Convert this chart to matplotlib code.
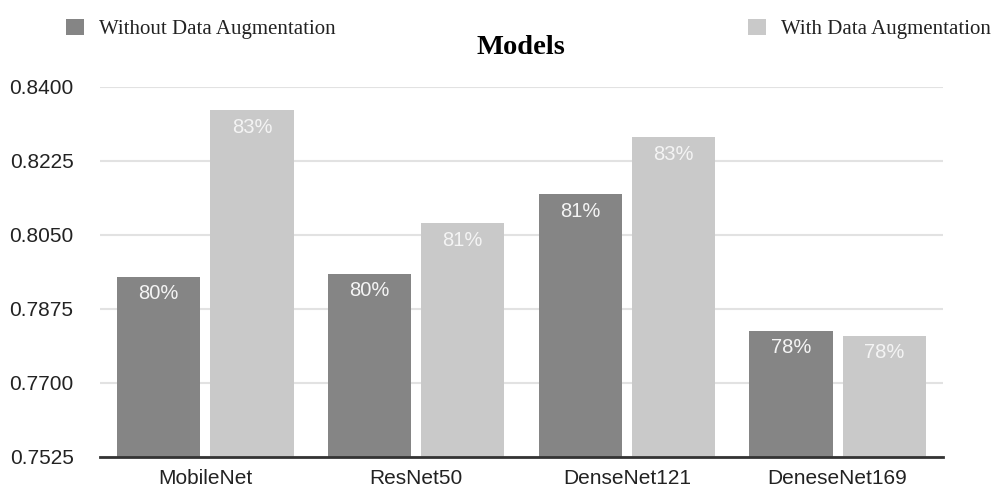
import numpy as np
import matplotlib
matplotlib.use("Agg")
import matplotlib.pyplot as plt

models = ["MobileNet", "ResNet50", "DenseNet121", "DeneseNet169"]
without_aug = [0.7951, 0.7958, 0.8146, 0.7824]
with_aug = [0.8345, 0.8078, 0.8281, 0.7812]
series_names = ["Without Data Augmentation", "With Data Augmentation"]
yticks = [0.7525, 0.7700, 0.7875, 0.8050, 0.8225, 0.8400]

dark = "#858585"
light = "#c9c9c9"

plt.rcParams["font.family"] = "Liberation Sans"

fig = plt.figure(figsize=(9.95, 4.88), dpi=100)
ax = fig.add_axes([100 / 995, 31 / 488, 843 / 995, 370 / 488])

x = np.arange(len(models))
w = 0.395
off = 0.221
b1 = ax.bar(x - off, without_aug, w, color=dark, zorder=2)
b2 = ax.bar(x + off, with_aug, w, color=light, zorder=2)

# percentage labels just inside the top of each bar
for bars in (b1, b2):
    for r in bars:
        v = r.get_height()
        ax.annotate(f"{v * 100:.0f}%", (r.get_x() + r.get_width() / 2, v),
                    xytext=(0, -17), textcoords="offset pixels",
                    ha="center", va="center", color="#f4f4f4", fontsize=14.5, zorder=3)

ax.set_ylim(yticks[0], yticks[-1])
ax.set_xlim(-0.5, len(models) - 0.5)
ax.set_yticks(yticks)
ax.set_yticklabels([f"{t:.4f}" for t in yticks])
ax.set_xticks(x)
ax.set_xticklabels(models)
ax.tick_params(length=0, labelsize=15, colors="#222222")
ax.tick_params(axis="y", pad=19)
ax.tick_params(axis="x", pad=9)
ax.yaxis.grid(True, color="#e2e2e2", linewidth=1.5, zorder=0)
for s in ["top", "right", "left"]:
    ax.spines[s].set_visible(False)
ax.spines["bottom"].set_color("#333333")
ax.spines["bottom"].set_linewidth(2)
ax.spines["bottom"].set_zorder(4)

fig.text(521 / 995, 1 - 47 / 488, "Models", ha="center", va="center",
         fontsize=20.5, fontweight="bold", family="Liberation Serif")

leg_kw = dict(frameon=False, loc="center left", borderpad=0, borderaxespad=0,
              handlelength=0.85, handleheight=0.85, handletextpad=0.75,
              prop={"family": "Liberation Serif", "size": 15})
leg1 = fig.legend([b1], [series_names[0]], bbox_to_anchor=(66 / 995, 1 - 29 / 488), **leg_kw)
leg2 = fig.legend([b2], [series_names[1]], bbox_to_anchor=(748 / 995, 1 - 29 / 488), **leg_kw)
for t in leg1.get_texts() + leg2.get_texts():
    t.set_color("#222222")

fig.savefig("out.png", dpi=100)
